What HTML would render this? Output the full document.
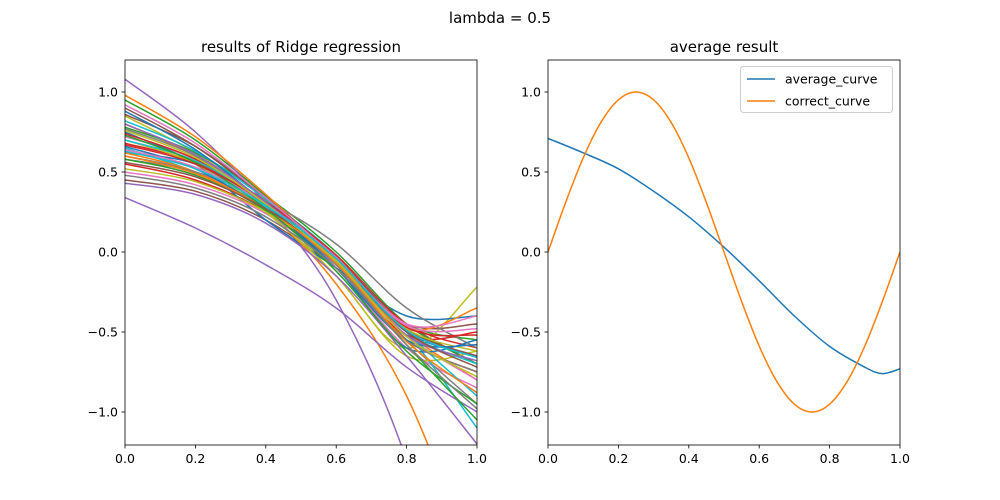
<!DOCTYPE html>
<html><head><meta charset="utf-8"><style>
html,body{margin:0;padding:0;background:#fff;overflow:hidden;width:1000px;height:500px}
svg{display:block}
svg text{font-family:"DejaVu Sans","Liberation Sans",sans-serif;fill:#000}
</style></head><body>
<svg id="fig" width="1000" height="500" xmlns="http://www.w3.org/2000/svg">
<rect width="1000" height="500" fill="#fff"/>
<text x="500" y="23" font-size="15" text-anchor="middle">lambda = 0.5</text>
<defs>
<clipPath id="cl"><rect x="125" y="60" width="352" height="385"/></clipPath>
<clipPath id="cr"><rect x="548" y="60" width="352" height="385"/></clipPath>
</defs>
<g id="left"></g>
<g id="right"></g>
</svg>
<script>
const ridgeX=[0,0.2,0.4,0.6,0.8,1.0];
const ridgeCurves=[
[0.62,0.55,0.30,-0.05,-0.50,-0.65],[0.80,0.60,0.30,-0.05,-0.50,-0.80],[0.95,0.70,0.35,-0.05,-0.45,-0.55],
[0.55,0.45,0.25,-0.10,-0.55,-0.75],[1.08,0.75,0.30,-0.30,-1.30,-2.80],[0.45,0.38,0.20,-0.10,-0.45,-0.70],
[0.72,0.58,0.30,-0.10,-0.60,-0.85],[0.60,0.50,0.28,-0.05,-0.55,-0.95],[0.85,0.62,0.30,-0.15,-0.60,-0.22],
[0.65,0.50,0.28,-0.05,-0.50,-1.10],[0.75,0.55,0.20,-0.10,-0.40,-0.40],[0.62,0.50,0.25,-0.20,-0.90,-2.00],
[0.78,0.62,0.35,0.00,-0.45,-0.70],[0.68,0.56,0.32,-0.02,-0.45,-0.60],[0.34,0.15,-0.08,-0.35,-0.72,-1.00],
[0.90,0.66,0.33,-0.05,-0.45,-0.45],[0.50,0.42,0.24,-0.08,-0.52,-0.80],[0.58,0.50,0.32,0.05,-0.35,-0.60],
[0.70,0.55,0.25,-0.15,-0.65,-0.62],[0.82,0.63,0.33,-0.02,-0.50,-0.90],[0.66,0.52,0.26,-0.10,-0.60,-0.55],
[0.98,0.72,0.36,-0.05,-0.48,-0.35],[0.58,0.48,0.26,-0.08,-0.58,-1.05],[0.74,0.58,0.30,-0.08,-0.52,-0.50],
[0.43,0.36,0.18,-0.15,-0.65,-1.20],[0.86,0.66,0.34,-0.03,-0.48,-0.65],[0.64,0.53,0.30,-0.03,-0.45,-0.40],
[0.77,0.60,0.29,-0.08,-0.55,-0.75],[0.52,0.44,0.25,-0.05,-0.48,-0.62],[0.70,0.57,0.31,-0.04,-0.50,-0.70],
[0.88,0.64,0.30,-0.10,-0.55,-0.58],[0.60,0.49,0.27,-0.07,-0.56,-0.88],[0.73,0.56,0.27,-0.12,-0.62,-0.95],
[0.67,0.55,0.31,-0.02,-0.47,-0.52],[0.80,0.61,0.31,-0.06,-0.52,-0.68],[0.56,0.47,0.27,-0.04,-0.50,-0.72],
[0.92,0.68,0.34,-0.04,-0.46,-0.48],[0.48,0.40,0.22,-0.10,-0.58,-0.98],[0.76,0.59,0.30,-0.06,-0.53,-0.78],
[0.63,0.52,0.29,-0.04,-0.49,-0.66]
];
const avgX=[0,0.1,0.2,0.3,0.4,0.5,0.6,0.7,0.8,0.9,0.95,1.0];
const avgY=[0.71,0.62,0.52,0.38,0.22,0.03,-0.18,-0.40,-0.59,-0.72,-0.76,-0.73];
const corX=[0,0.05,0.1,0.15,0.2,0.25,0.3,0.35,0.4,0.45,0.5,0.55,0.6,0.65,0.7,0.75,0.8,0.85,0.9,0.95,1.0];
const corY=[0,0.309,0.588,0.809,0.951,1,0.951,0.809,0.588,0.309,0,-0.309,-0.588,-0.809,-0.951,-1,-0.951,-0.809,-0.588,-0.309,0];
const xTicks=[0,0.2,0.4,0.6,0.8,1.0];
const yTicks=[-1.0,-0.5,0.0,0.5,1.0];
const colors=['#1f77b4','#ff7f0e','#2ca02c','#d62728','#9467bd','#8c564b','#e377c2','#7f7f7f','#bcbd22','#17becf'];
const NS='http://www.w3.org/2000/svg';
function mk(t,a,p){const e=document.createElementNS(NS,t);for(const k in a)e.setAttribute(k,a[k]);p.appendChild(e);return e;}
function fmt(v){return v.toFixed(1).replace('-','\u2212');}
function axes(g,x0,title,clip){
  const X=v=>x0+v*352, Y=v=>252-v*160;
  const t=mk('text',{x:x0+176,y:52,'font-size':15,'text-anchor':'middle'},g);t.textContent=title;
  
  
  xTicks.forEach(v=>{mk('line',{x1:X(v),x2:X(v),y1:445,y2:448.5,stroke:'#000','stroke-width':0.8},g);
    const l=mk('text',{x:X(v),y:463,'font-size':12.5,'text-anchor':'middle'},g);l.textContent=fmt(v);
    
    });
  yTicks.forEach(v=>{mk('line',{x1:x0-3.5,x2:x0,y1:Y(v),y2:Y(v),stroke:'#000','stroke-width':0.8},g);
    const l=mk('text',{x:x0-7,y:Y(v)+4.5,'font-size':12.5,'text-anchor':'end'},g);l.textContent=fmt(v);
    
    });
  return {X,Y,lines:mk('g',{'clip-path':'url(#'+clip+')'},g)};
}
function smooth(xs,ys,X,Y){
  const p=xs.map((x,i)=>[X(x),Y(ys[i])]);let d='M'+p[0][0]+','+p[0][1];
  for(let i=0;i<p.length-1;i++){const a=p[i-1]||p[i],b=p[i],c=p[i+1],e=p[i+2]||c;
    d+=' C'+(b[0]+(c[0]-a[0])/6)+','+(b[1]+(c[1]-a[1])/6)+' '+(c[0]-(e[0]-b[0])/6)+','+(c[1]-(e[1]-b[1])/6)+' '+c[0]+','+c[1];}
  return d;
}
const L=axes(document.getElementById('left'),125,'results of Ridge regression','cl');
ridgeCurves.forEach((c,i)=>{const p=mk('path',{d:smooth(ridgeX,c,L.X,L.Y),fill:'none',stroke:colors[i%10],'stroke-width':1.5},L.lines);
  
  });
mk('rect',{x:125,y:60,width:352,height:385,fill:'none',stroke:'#000','stroke-width':0.8},document.getElementById('left'));
const R=axes(document.getElementById('right'),548,'average result','cr');
const a=mk('path',{d:smooth(avgX,avgY,R.X,R.Y),fill:'none',stroke:'#1f77b4','stroke-width':1.5},R.lines);


const c=mk('path',{d:smooth(corX,corY,R.X,R.Y),fill:'none',stroke:'#ff7f0e','stroke-width':1.5},R.lines);


const rg=document.getElementById('right');
mk('rect',{x:548,y:60,width:352,height:385,fill:'none',stroke:'#000','stroke-width':0.8},rg);
const lg=mk('g',{},rg);


mk('rect',{x:740.5,y:66.5,width:152,height:46,rx:3,fill:'#fff',stroke:'#ccc'},lg);
[['average_curve','#1f77b4',79],['correct_curve','#ff7f0e',101]].forEach(e=>{
  mk('line',{x1:747,x2:775,y1:e[2],y2:e[2],stroke:e[1],'stroke-width':1.5},lg);
  const t=mk('text',{x:785,y:e[2]+4.5,'font-size':12.5},lg);t.textContent=e[0];
  
  });
</script>
</body></html>
